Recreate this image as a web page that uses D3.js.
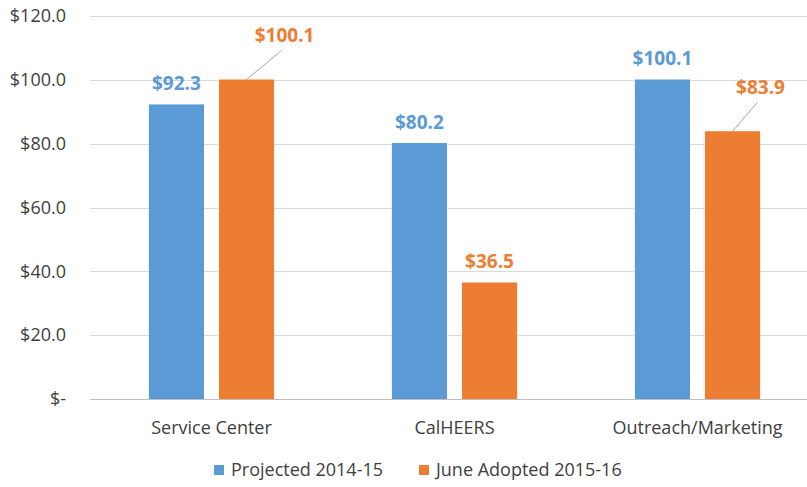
<!DOCTYPE html>
<html>
<head>
<meta charset="utf-8">
<script src="https://cdn.jsdelivr.net/npm/d3@7"></script>
<style>
  body { margin: 0; background: #fff; }
  text { font-family: "Open Sans", "Noto Sans", sans-serif; }
</style>
</head>
<body>
<div id="chart"></div>
<script>
// ---- data ----
const categories = ['Service Center', 'CalHEERS', 'Outreach/Marketing'];
const seriesNames = ['Projected 2014-15', 'June Adopted 2015-16'];
const projected = [92.3, 80.2, 100.1];
const adopted   = [100.1, 36.5, 83.9];
const yTicks = [0, 20, 40, 60, 80, 100, 120];
const colors = ['#5B9BD5', '#ED7D31'];

const W = 807, H = 487;
const margin = { top: 16, right: -12, bottom: 88, left: 90 };

const svg = d3.select('#chart').append('svg')
  .attr('width', W).attr('height', H);

const x = d3.scaleBand().domain(categories)
  .range([margin.left, W - margin.right]).padding(0);
const x1 = d3.scaleBand().domain(seriesNames)
  .range([0, x.bandwidth()]).paddingInner(0.214).paddingOuter(0.84);
const y = d3.scaleLinear().domain([0, 120]).range([H - margin.bottom, margin.top]);

const fmt = v => v === 0 ? '$-' : '$' + v.toFixed(1);

/* gridlines */
svg.append('g').selectAll('line').data(yTicks).enter().append('line')
  .attr('x1', margin.left).attr('x2', W)
  .attr('y1', d => Math.round(y(d)) + 0.5).attr('y2', d => Math.round(y(d)) + 0.5)
  .attr('stroke', d => d === 0 ? '#bfbfbf' : '#d9d9d9').attr('stroke-width', 1);

/* y labels */
svg.append('g').selectAll('text').data(yTicks).enter().append('text')
  .attr('x', 66).attr('y', d => y(d)).attr('dy', '0.35em')
  .attr('text-anchor', 'end').style('font-size', '18px').attr('fill', '#404040')
  .text(d => d === 0 ? '$-' : '$' + d.toFixed(1));

/* bars */
const rows = categories.map((c, i) => ({ cat: c, vals: [projected[i], adopted[i]] }));
const groups = svg.append('g').selectAll('g').data(rows).enter().append('g')
  .attr('transform', d => `translate(${x(d.cat)},0)`);

groups.selectAll('rect').data(d => d.vals.map((v, j) => ({ s: seriesNames[j], v, j })))
  .enter().append('rect')
  .attr('x', d => x1(d.s)).attr('width', x1.bandwidth())
  .attr('y', d => y(d.v)).attr('height', d => y(0) - y(d.v))
  .attr('fill', d => colors[d.j]);

/* value labels – two orange labels are moved off the bar with a leader line */
const labelOffset = {
  'Service Center|1':     { line: [35, -29], text: [38, -44] },
  'Outreach/Marketing|1': { line: [25, -29], text: [28, -44] }
};
rows.forEach(r => {
  r.vals.forEach((v, j) => {
    const cx = x(r.cat) + x1(seriesNames[j]) + x1.bandwidth() / 2;
    const off = labelOffset[r.cat + '|' + j];
    let tx = cx, ty = y(v) - 21;
    if (off) {
      svg.append('line')
        .attr('x1', cx).attr('y1', y(v))
        .attr('x2', cx + off.line[0]).attr('y2', y(v) + off.line[1])
        .attr('stroke', '#a6a6a6').attr('stroke-width', 1);
      tx = cx + off.text[0]; ty = y(v) + off.text[1];
    }
    svg.append('text')
      .attr('x', tx).attr('y', ty).attr('dy', '0.35em')
      .attr('text-anchor', 'middle')
      .style('font-size', '19px').style('font-weight', '700')
      .attr('fill', colors[j])
      .text(fmt(v));
  });
});

/* category labels */
svg.append('g').selectAll('text').data(categories).enter().append('text')
  .attr('x', d => x(d) + x.bandwidth() / 2).attr('y', 428).attr('dy', '0.35em')
  .attr('text-anchor', 'middle').style('font-size', '18px').attr('fill', '#404040')
  .text(d => d);

/* legend */
const legendX = [214, 419];
seriesNames.forEach((s, i) => {
  svg.append('rect').attr('x', legendX[i]).attr('y', 465)
    .attr('width', 10).attr('height', 10).attr('fill', colors[i]);
  svg.append('text').attr('x', legendX[i] + 17).attr('y', 470).attr('dy', '0.35em')
    .style('font-size', '18px').attr('fill', '#404040').text(s);
});
</script>
</body>
</html>
